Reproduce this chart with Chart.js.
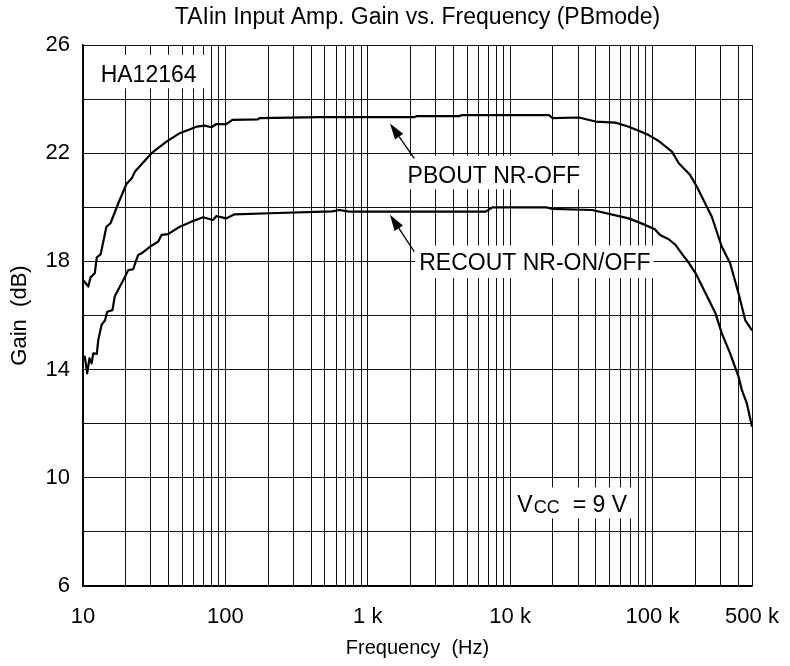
<!DOCTYPE html>
<html>
<head>
<meta charset="utf-8">
<script src="https://cdn.jsdelivr.net/npm/chart.js@4.4.1/dist/chart.umd.min.js"></script>
<style>
    html, body { margin: 0; padding: 0; background: #fff; }
</style>
</head>
<body>
<canvas id="plot-canvas" width="790" height="666"></canvas>
<script>
"use strict";

// PBOUT NR-OFF, frequency (Hz) / gain (dB)
const pboutFreq = [10, 10.9, 11.3, 12.1, 12.5, 13.3, 14.6, 15.6, 17.7, 20.2, 22.0, 23.2, 30.3, 38.6, 47.8,
    62.8, 71.7, 79.8, 86.6, 101, 112, 169, 174, 457, 2120, 2200, 4390, 4600, 18760, 19800, 30400,
    39800, 54900, 68100, 80000, 94000, 110000, 137000, 153000, 184000, 205000, 261000, 307000,
    351000, 402000, 448000, 500000];
const pboutGain = [17.31, 17.07, 17.41, 17.56, 18.15, 18.26, 19.28, 19.41, 20.15, 20.86, 21.07, 21.32, 22.0, 22.43, 22.74,
    22.98, 23.02, 22.96, 23.08, 23.07, 23.23, 23.25, 23.3, 23.33, 23.33, 23.37, 23.37, 23.41, 23.41, 23.3, 23.32,
    23.17, 23.13, 22.98, 22.83, 22.67, 22.46, 22.06, 21.63, 21.19, 20.76, 19.65, 18.54,
    17.93, 16.82, 15.83, 15.45];

// RECOUT NR-ON/OFF
const recoutFreq = [10, 10.3, 10.7, 11.1, 11.5, 11.8, 12.5, 12.8, 13.5, 14.3, 14.8, 16.1, 16.7, 19.2, 20.8,
    22.5, 24.4, 25.8, 29.5, 33.7, 35.6, 39.6, 47.8, 57.7, 69.7, 81.9, 86.6, 101, 116, 204, 565,
    630, 740, 6740, 7500, 17800, 19800, 37700, 68100, 88900, 103900, 113000, 130000, 145000,
    163000, 181000, 201000, 236000, 277000, 307000, 351000, 402000, 424000, 460000, 500000];
const recoutGain = [14.35, 14.48, 13.86, 14.42, 14.23, 14.6, 14.58, 15.09, 15.65, 15.83, 16.14, 16.2, 16.7, 17.31, 17.68,
    17.71, 18.24, 18.3, 18.54, 18.73, 18.98, 19.01, 19.28, 19.47, 19.63, 19.53, 19.68, 19.59, 19.74, 19.78, 19.85,
    19.9, 19.84, 19.84, 20.0, 20.0, 19.94, 19.9, 19.59, 19.35, 19.19, 18.98, 18.82, 18.61,
    18.24, 17.93, 17.56, 16.82, 16.08, 15.34, 14.6, 13.74, 13.25, 12.75, 11.89];

// axis ticks
const xDecades = [10, 100, 1000, 10000, 100000];
const xLabelValues = [10, 100, 1000, 10000, 100000, 500000];
const xLabelText = ["10", "100", "1 k", "10 k", "100 k", "500 k"];
const yLabelValues = [6, 10, 14, 18, 22, 26];

const FONT = "'Liberation Sans', Arial, sans-serif";

// text labels, anchored in data space (left edge / baseline)
const notes = [
    { text: "HA12164", f: 13.3, g: 24.62, pad: [18, 13, 11, 6] },
    { text: "PBOUT NR-OFF", f: 1905, g: 20.89, pad: [4, 5, 11, 6] },
    { text: "RECOUT NR-ON/OFF", f: 2300, g: 17.68, pad: [4, 3, 8, 8] }
];
const vcc = { f: 11230, g: 8.72 };
// arrows: tail -> tip
const arrows = [
    { f0: 2122, g0: 21.81, f1: 1432, g1: 23.1 },
    { f0: 2122, g0: 18.36, f1: 1432, g1: 19.72 }
];

let ctx = document.getElementById('plot-canvas').getContext('2d');

const toPoints = (xs, ys) => xs.map((x, i) => ({ x: x, y: ys[i] }));

function box(c, x0, y0, x1, y1) {
    c.fillStyle = "#fff";
    c.fillRect(x0, y0, x1 - x0, y1 - y0);
}

const notesPlugin = {
    id: 'notes',
    beforeDatasetsDraw(chart) {
        const c = chart.ctx;
        const xs = chart.scales.x, ys = chart.scales.y;
        const area = chart.chartArea;
        c.save();
        c.textBaseline = "alphabetic";
        c.textAlign = "left";

        notes.forEach(n => {
            c.font = "23px " + FONT;
            const tx = xs.getPixelForValue(n.f);
            const ty = ys.getPixelForValue(n.g);
            const w = c.measureText(n.text).width;
            const cap = 16.5;
            box(c, Math.max(tx - n.pad[0], area.left + 1), ty - cap - n.pad[2], tx + w + n.pad[1], ty + n.pad[3]);
            c.fillStyle = "#000";
            c.fillText(n.text, tx, ty);
        });

        // V_CC = 9 V with subscript
        const vx = xs.getPixelForValue(vcc.f);
        const vy = ys.getPixelForValue(vcc.g);
        c.font = "23px " + FONT;
        const wV = c.measureText("V").width;
        const rest = "= 9 V";
        const wRest = c.measureText(rest).width;
        c.font = "18px " + FONT;
        const wCC = c.measureText("CC").width;
        const ccX = vx + wV + 1;
        const restX = ccX + wCC + 13;
        box(c, vx - 6, vy - 25, restX + wRest + 5, vy + 6);
        c.fillStyle = "#000";
        c.fillText("CC", ccX, vy + 1);
        c.font = "23px " + FONT;
        c.fillText("V", vx, vy);
        c.fillText(rest, restX, vy);
        c.restore();
    },
    afterDatasetsDraw(chart) {
        const c = chart.ctx;
        const xs = chart.scales.x, ys = chart.scales.y;
        c.save();
        c.strokeStyle = "#000";
        c.fillStyle = "#000";
        c.lineWidth = 1.3;
        arrows.forEach(a => {
            const x0 = xs.getPixelForValue(a.f0), y0 = ys.getPixelForValue(a.g0);
            const x1 = xs.getPixelForValue(a.f1), y1 = ys.getPixelForValue(a.g1);
            const ang = Math.atan2(y1 - y0, x1 - x0);
            const len = 16, half = 5;
            const bx = x1 - len * Math.cos(ang), by = y1 - len * Math.sin(ang);
            c.beginPath();
            c.moveTo(x0, y0);
            c.lineTo(bx, by);
            c.stroke();
            c.beginPath();
            c.moveTo(x1, y1);
            c.lineTo(bx + half * Math.sin(ang), by - half * Math.cos(ang));
            c.lineTo(bx - half * Math.sin(ang), by + half * Math.cos(ang));
            c.closePath();
            c.fill();
        });
        c.restore();
    }
};

const chart = new Chart(ctx, {
    type: 'line',
    data: {
        datasets: [
            { label: 'PBOUT NR-OFF', data: toPoints(pboutFreq, pboutGain) },
            { label: 'RECOUT NR-ON/OFF', data: toPoints(recoutFreq, recoutGain) }
        ]
    },
    options: {
        responsive: false,
        animation: false,
        parsing: false,
        elements: {
            line: { borderColor: '#000', borderWidth: 2.2, tension: 0, borderJoinStyle: 'round' },
            point: { radius: 0 }
        },
        layout: { padding: { left: 0, right: 38, top: 0, bottom: 0 } },
        plugins: {
            legend: { display: false },
            tooltip: { enabled: false },
            title: {
                display: true,
                fullSize: false,
                text: 'TAIin Input Amp. Gain vs. Frequency (PBmode)',
                color: '#000',
                font: { family: FONT, size: 23, weight: 'normal' },
                padding: { top: 4, bottom: 13.4 }
            }
        },
        scales: {
            x: {
                type: 'logarithmic',
                min: 10,
                max: 500000,
                afterBuildTicks: scale => {
                    const t = [];
                    xDecades.forEach(d => {
                        for (let m = 1; m <= 9; m++) {
                            if (d * m <= 500000) t.push({ value: d * m });
                        }
                    });
                    scale.ticks = t;
                },
                afterFit: scale => {
                    scale.height = 80;
                    scale.paddingLeft = 0;
                    scale.paddingRight = 0;
                },
                grid: { color: '#111', lineWidth: 1, drawTicks: false },
                border: { color: '#000', width: 1.5 },
                ticks: {
                    autoSkip: false,
                    maxRotation: 0,
                    padding: 18,
                    color: '#000',
                    font: { family: FONT, size: 22 },
                    callback: v => {
                        const i = xLabelValues.indexOf(v);
                        return i >= 0 ? xLabelText[i] : '';
                    }
                },
                title: {
                    display: true,
                    text: 'Frequency  (Hz)',
                    color: '#000',
                    font: { family: FONT, size: 20 },
                    padding: { top: 6, bottom: 6 }
                }
            },
            y: {
                min: 6,
                max: 26,
                afterFit: scale => { scale.width = 83; },
                grid: { color: '#111', lineWidth: 1, drawTicks: false },
                border: { color: '#000', width: 1.5 },
                ticks: {
                    stepSize: 2,
                    padding: 13,
                    color: '#000',
                    font: { family: FONT, size: 22 },
                    callback: v => yLabelValues.includes(v) ? String(v) : ''
                },
                title: {
                    display: true,
                    text: 'Gain  (dB)',
                    color: '#000',
                    font: { family: FONT, size: 22 },
                    padding: 7
                }
            }
        }
    },
    plugins: [notesPlugin]
});
</script>
</body>
</html>
